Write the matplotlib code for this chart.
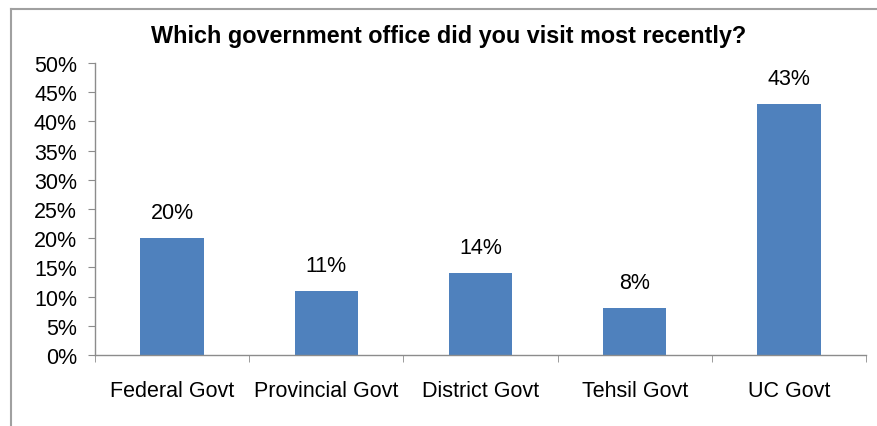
import matplotlib
matplotlib.use('Agg')
import matplotlib.pyplot as plt
from matplotlib.lines import Line2D
from matplotlib.ticker import MultipleLocator, FuncFormatter

categories = ['Federal Govt', 'Provincial Govt', 'District Govt', 'Tehsil Govt', 'UC Govt']
values = [20, 11, 14, 8, 43]

plt.rcParams['font.family'] = ['Liberation Sans', 'DejaVu Sans']

W, H = 878, 427
fig = plt.figure(figsize=(W/100, H/100), dpi=100)
ax = fig.add_axes([95/W, 1-356/H, (866-95)/W, (356-64)/H])

x = range(len(categories))
bars = ax.bar(x, values, width=0.41, color='#4F81BD', zorder=2)
for xi, v in zip(x, values):
    ax.text(xi, v + 2.6, '%d%%' % v, ha='center', va='bottom', fontsize=15.5)

ax.set_xlim(-0.5, len(categories)-0.5)
ax.set_ylim(0, 50)
ax.yaxis.set_major_locator(MultipleLocator(5))
ax.yaxis.set_major_formatter(FuncFormatter(lambda v, p: '%d%%' % v))
ax.set_xticks(x)
ax.set_xticklabels(categories)
ax.set_xticks([i - 0.5 for i in range(len(categories)+1)], minor=True)
ax.tick_params(axis='x', which='major', length=0, pad=18, labelsize=15.5)
ax.tick_params(axis='x', which='minor', length=5, color='#8c8c8c', direction='out')
ax.tick_params(axis='y', length=5, color='#8c8c8c', labelsize=15.5, pad=8)
for s in ['top', 'right']:
    ax.spines[s].set_visible(False)
for s in ['left', 'bottom']:
    ax.spines[s].set_color('#8c8c8c')
    ax.spines[s].set_linewidth(1)

fig.text(449/W, 1-43/H, 'Which government office did you visit most recently?',
         ha='center', va='baseline', fontsize=16.8, fontweight='bold')

# outer chart frame (cropped)
fig.add_artist(Line2D([11/W, 11/W], [0, 1-10/H], color='#a0a0a0', lw=1.5, transform=fig.transFigure))
fig.add_artist(Line2D([11/W, 1], [1-10/H, 1-10/H], color='#a0a0a0', lw=1.5, transform=fig.transFigure))

fig.savefig('out.png', dpi=100)
